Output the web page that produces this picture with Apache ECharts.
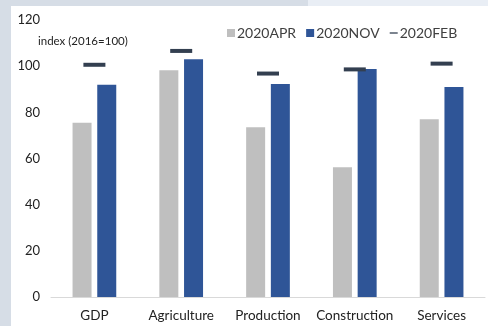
<!DOCTYPE html>
<html>
<head>
<meta charset="utf-8">
<script src="https://cdn.jsdelivr.net/npm/echarts@6/dist/echarts.min.js"></script>
<style>
  html, body { margin: 0; padding: 0; background: #d6dde6; }
  #frame { position: absolute; left: 0; top: 0; width: 488px; height: 326px; }
  #strip { position: absolute; left: 308px; top: 0; width: 180px; height: 6px; background: #e9eef5; }
  #chart { position: absolute; left: 11px; top: 6px; width: 477px; height: 320px; background: #ffffff; }
</style>
</head>
<body>
<div id="frame">
  <div id="strip"></div>
  <div id="chart"></div>
</div>
<script>
// Sector output indices, 2016 = 100
const categories = ['GDP', 'Agriculture', 'Production', 'Construction', 'Services'];
const apr2020 = [75.5, 98.2, 73.5, 56.2, 77.0];
const nov2020 = [91.9, 103.0, 92.3, 98.8, 91.0];
const feb2020 = [100.6, 106.6, 96.8, 98.6, 101.1];
const yTicks = { min: 0, max: 120, step: 20 };

const FONT = 'Lato, "Noto Sans", sans-serif';
const chart = echarts.init(document.getElementById('chart'), null, { renderer: 'canvas' });

chart.setOption({
  animation: false,
  textStyle: { fontFamily: FONT },
  grid: { left: 40, right: 3, top: 14, bottom: 29, containLabel: false },
  legend: {
    top: 15,
    left: 211,
    itemWidth: 8,
    itemHeight: 8,
    itemGap: 10,
    textStyle: { fontFamily: FONT, fontSize: 14, color: '#404040', padding: [0, 0, 0, -3] },
    data: [
      { name: '2020APR', icon: 'rect' },
      { name: '2020NOV', icon: 'rect' },
      { name: '2020FEB', icon: 'path://M0,7h10v1.6h-10z' }
    ]
  },
  graphic: [
    {
      type: 'text',
      left: 27,
      top: 29,
      style: { text: 'index (2016=100)', fontFamily: FONT, fontSize: 11.5, fill: '#222' }
    }
  ],
  xAxis: {
    type: 'category',
    data: categories,
    axisLine: { lineStyle: { color: '#d9d9d9', width: 1 } },
    axisTick: { show: false },
    axisLabel: { interval: 0, color: '#222', fontSize: 13.5, margin: 12, fontFamily: FONT }
  },
  yAxis: {
    type: 'value',
    min: yTicks.min,
    max: yTicks.max,
    interval: yTicks.step,
    axisLine: { show: false },
    axisTick: { show: false },
    splitLine: { show: false },
    axisLabel: { color: '#222', fontSize: 13, margin: 11, fontFamily: FONT }
  },
  series: [
    {
      name: '2020APR',
      type: 'bar',
      data: apr2020,
      barWidth: 19,
      barGap: '30%',
      itemStyle: { color: '#bfbfbf' }
    },
    {
      name: '2020NOV',
      type: 'bar',
      data: nov2020,
      barWidth: 19,
      barGap: '30%',
      itemStyle: { color: '#2f5597' }
    },
    {
      name: '2020FEB',
      type: 'scatter',
      data: feb2020,
      symbol: 'rect',
      symbolSize: [22, 4],
      itemStyle: { color: '#333f50', opacity: 1 },
      z: 5
    }
  ]
});
</script>
</body>
</html>
